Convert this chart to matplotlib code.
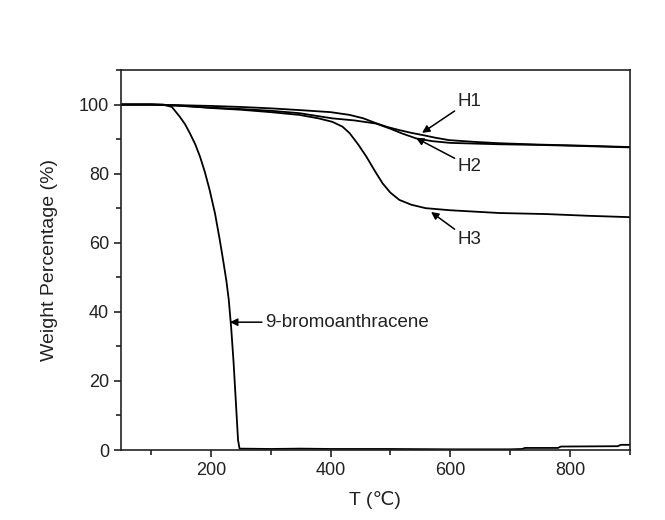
import matplotlib
matplotlib.use("Agg")
import matplotlib.pyplot as plt
from matplotlib.ticker import MultipleLocator

plt.rcParams['font.family'] = ['Liberation Sans', 'DejaVu Sans']

# 9-bromoanthracene
t_br = [50, 100, 120, 135, 148, 157, 165, 174, 182, 190, 198, 207, 215, 221, 226, 230, 234, 238, 242, 245.5, 248,
        300, 350, 400, 500, 600, 700, 720, 725, 780, 785, 880, 885, 900]
w_br = [100, 100, 100, 99.3, 96.5, 94.3, 91.7, 88.5, 84.9, 80.5, 75.3, 68.5, 60.8, 54.5, 49, 43.5, 35.5, 25.5, 13.5, 2.9, 0.4,
        0.3, 0.4, 0.3, 0.3, 0.2, 0.2, 0.3, 0.6, 0.6, 1.0, 1.1, 1.5, 1.5]

# H1
t_h1 = [50, 100, 150, 200, 250, 300, 348, 400, 432, 455, 476, 495, 515, 535, 553, 575, 598, 640, 682, 750, 820, 900]
w_h1 = [100, 100, 99.8, 99.6, 99.3, 98.9, 98.4, 97.8, 97.0, 96.0, 94.6, 93.5, 92.6, 91.8, 91.2, 90.4, 89.7, 89.2, 88.8, 88.4, 88.1, 87.7]

# H2
t_h2 = [50, 100, 150, 200, 250, 300, 348, 403, 440, 476, 500, 520, 543, 570, 600, 640, 682, 750, 820, 900]
w_h2 = [100, 100, 99.6, 99.1, 98.7, 98.2, 97.5, 96.0, 95.4, 94.5, 93.0, 91.6, 90.2, 89.4, 88.9, 88.7, 88.5, 88.3, 88.0, 87.6]

# H3
t_h3 = [50, 100, 150, 200, 250, 300, 348, 380, 403, 420, 432, 446, 460, 474, 487, 500, 515, 535, 559, 600, 682, 760, 830, 900]
w_h3 = [100, 100, 99.7, 99.0, 98.5, 97.8, 97.0, 96.0, 95.0, 93.6, 91.7, 88.5, 84.9, 80.8, 77.2, 74.5, 72.4, 71.0, 70.0, 69.4, 68.6, 68.3, 67.8, 67.4]

fig = plt.figure(figsize=(6.65, 5.2), dpi=100)
ax = fig.add_axes([0.182, 0.1346, 0.765, 0.7308])

for t, w in [(t_br, w_br), (t_h1, w_h1), (t_h2, w_h2), (t_h3, w_h3)]:
    ax.plot(t, w, color='black', lw=1.3)

ax.set_xlim(50, 900)
ax.set_ylim(0, 110)
ax.set_xticks([200, 400, 600, 800])
ax.set_yticks([0, 20, 40, 60, 80, 100])
ax.xaxis.set_minor_locator(MultipleLocator(100))
ax.yaxis.set_minor_locator(MultipleLocator(10))
ax.tick_params(which='both', direction='out', top=False, right=False, width=1.2, labelsize=13, colors='#222222')
ax.tick_params(which='major', length=5)
ax.tick_params(which='minor', length=3.5)
for s in ax.spines.values():
    s.set_linewidth(1.2)
    s.set_color('#222222')

ax.set_xlabel('T (\u2103)', fontsize=14, color='#222222', labelpad=9)
ax.set_ylabel('Weight Percentage (%)', fontsize=14, color='#222222', labelpad=15)

arrow = dict(arrowstyle='-|>', color='black', lw=1.1, mutation_scale=11, shrinkA=0, shrinkB=0)
txt = dict(fontsize=13.5, va='center', ha='left', color='#222222')
ax.annotate('H1', xy=(553, 91.8), xytext=(612, 101), arrowprops=arrow, **txt)
ax.annotate('H2', xy=(543, 90.3), xytext=(612, 82.2), arrowprops=arrow, **txt)
ax.annotate('H3', xy=(568, 68.9), xytext=(612, 60.8), arrowprops=arrow, **txt)
ax.annotate('9-bromoanthracene', xy=(232, 37), xytext=(290, 37), arrowprops=arrow, **txt)

fig.savefig('out.png', dpi=100)
